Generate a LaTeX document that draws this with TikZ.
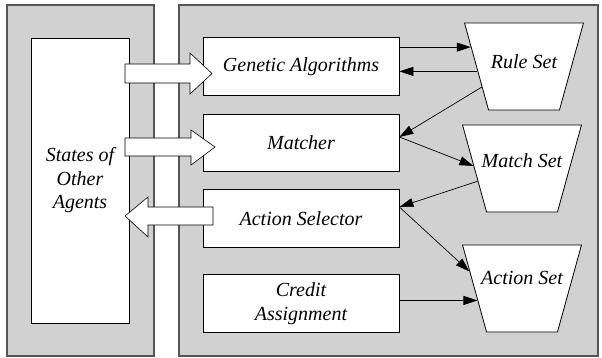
\documentclass[tikz,border=0pt]{standalone}
\usepackage{fontspec}
\setmainfont{Liberation Serif}
\usetikzlibrary{shapes.geometric,arrows.meta}
\definecolor{panelgray}{RGB}{209,209,209}
\definecolor{framegray}{RGB}{85,85,85}

\begin{document}
\begin{tikzpicture}[x=1pt,y=-1pt,
  every node/.style={font=\fontsize{20}{23.5}\selectfont\itshape},
  panel/.style={draw=framegray, line width=1.3pt, fill=panelgray},
  module/.style={draw, line width=0.8pt, fill=white, align=center,
    minimum width=196, minimum height=57.5},
  setbox/.style={trapezium, draw, line width=0.8pt, fill=white,
    shape border rotate=180, trapezium stretches=true,
    trapezium angle=71.3, minimum width=119, minimum height=87},
  fatarrow/.style={draw, line width=0.6pt, fill=white},
  arr/.style={-{Triangle[length=14pt,width=9pt]}, line width=0.7pt}]
\useasboundingbox (0,0) rectangle (602,358);

% panels
\node[panel, minimum width=147, minimum height=351] (leftpanel) at (80.5,180.5) {};
\node[panel, minimum width=419, minimum height=351] (rightpanel) at (388.5,180.5) {};
\node[draw, line width=0.8pt, fill=white, align=center,
  minimum width=98, minimum height=285] (states) at (80,180.5) {States of\\Other\\Agents};

% modules
\foreach \nm/\yy/\txt in {gen/66.5/Genetic Algorithms, match/143/Matcher,
    select/218.5/Action Selector, credit/303.5/{Credit\\Assignment}}
  \node[module] (\nm) at (301,\yy) {\txt};

% sets
\foreach \nm/\xx/\yy/\up/\txt in {rule/524/66.5/5/Rule Set,
    matchset/522/168.5/8/Match Set, actionset/522/288.5/11/Action Set}
  \node[setbox, label={[yshift=\up pt]center:\txt}] (\nm) at (\xx,\yy) {};

% block arrows
\draw[fatarrow] (125,64) -- (190,64) -- (190,53) -- (212,73.5) -- (190,94) -- (190,83) -- (125,83) -- cycle;
\draw[fatarrow] (125,138) -- (191,138) -- (191,130) -- (215,147) -- (191,165) -- (191,156) -- (125,156) -- cycle;
\draw[fatarrow] (213,207) -- (148,207) -- (148,197) -- (125,216) -- (148,237) -- (148,225) -- (213,225) -- cycle;

% links
\coordinate (matchin) at ([yshift=6pt]match.east);
\coordinate (selout) at ([yshift=11.5pt]select.east);
\draw[arr] (rule.160 -| gen.east) -- (rule.160);
\draw[arr] (rule.186) -- (rule.186 -| gen.east);
\draw[arr] (rule.206) -- (matchin);
\draw[arr] (matchin) -- (matchset.177);
\draw[arr] (matchset.196) -- (selout);
\draw[arr] (selout) -- (actionset.162);
\draw[arr] (actionset.195 -| credit.east) -- (actionset.195);
\end{tikzpicture}
\end{document}
